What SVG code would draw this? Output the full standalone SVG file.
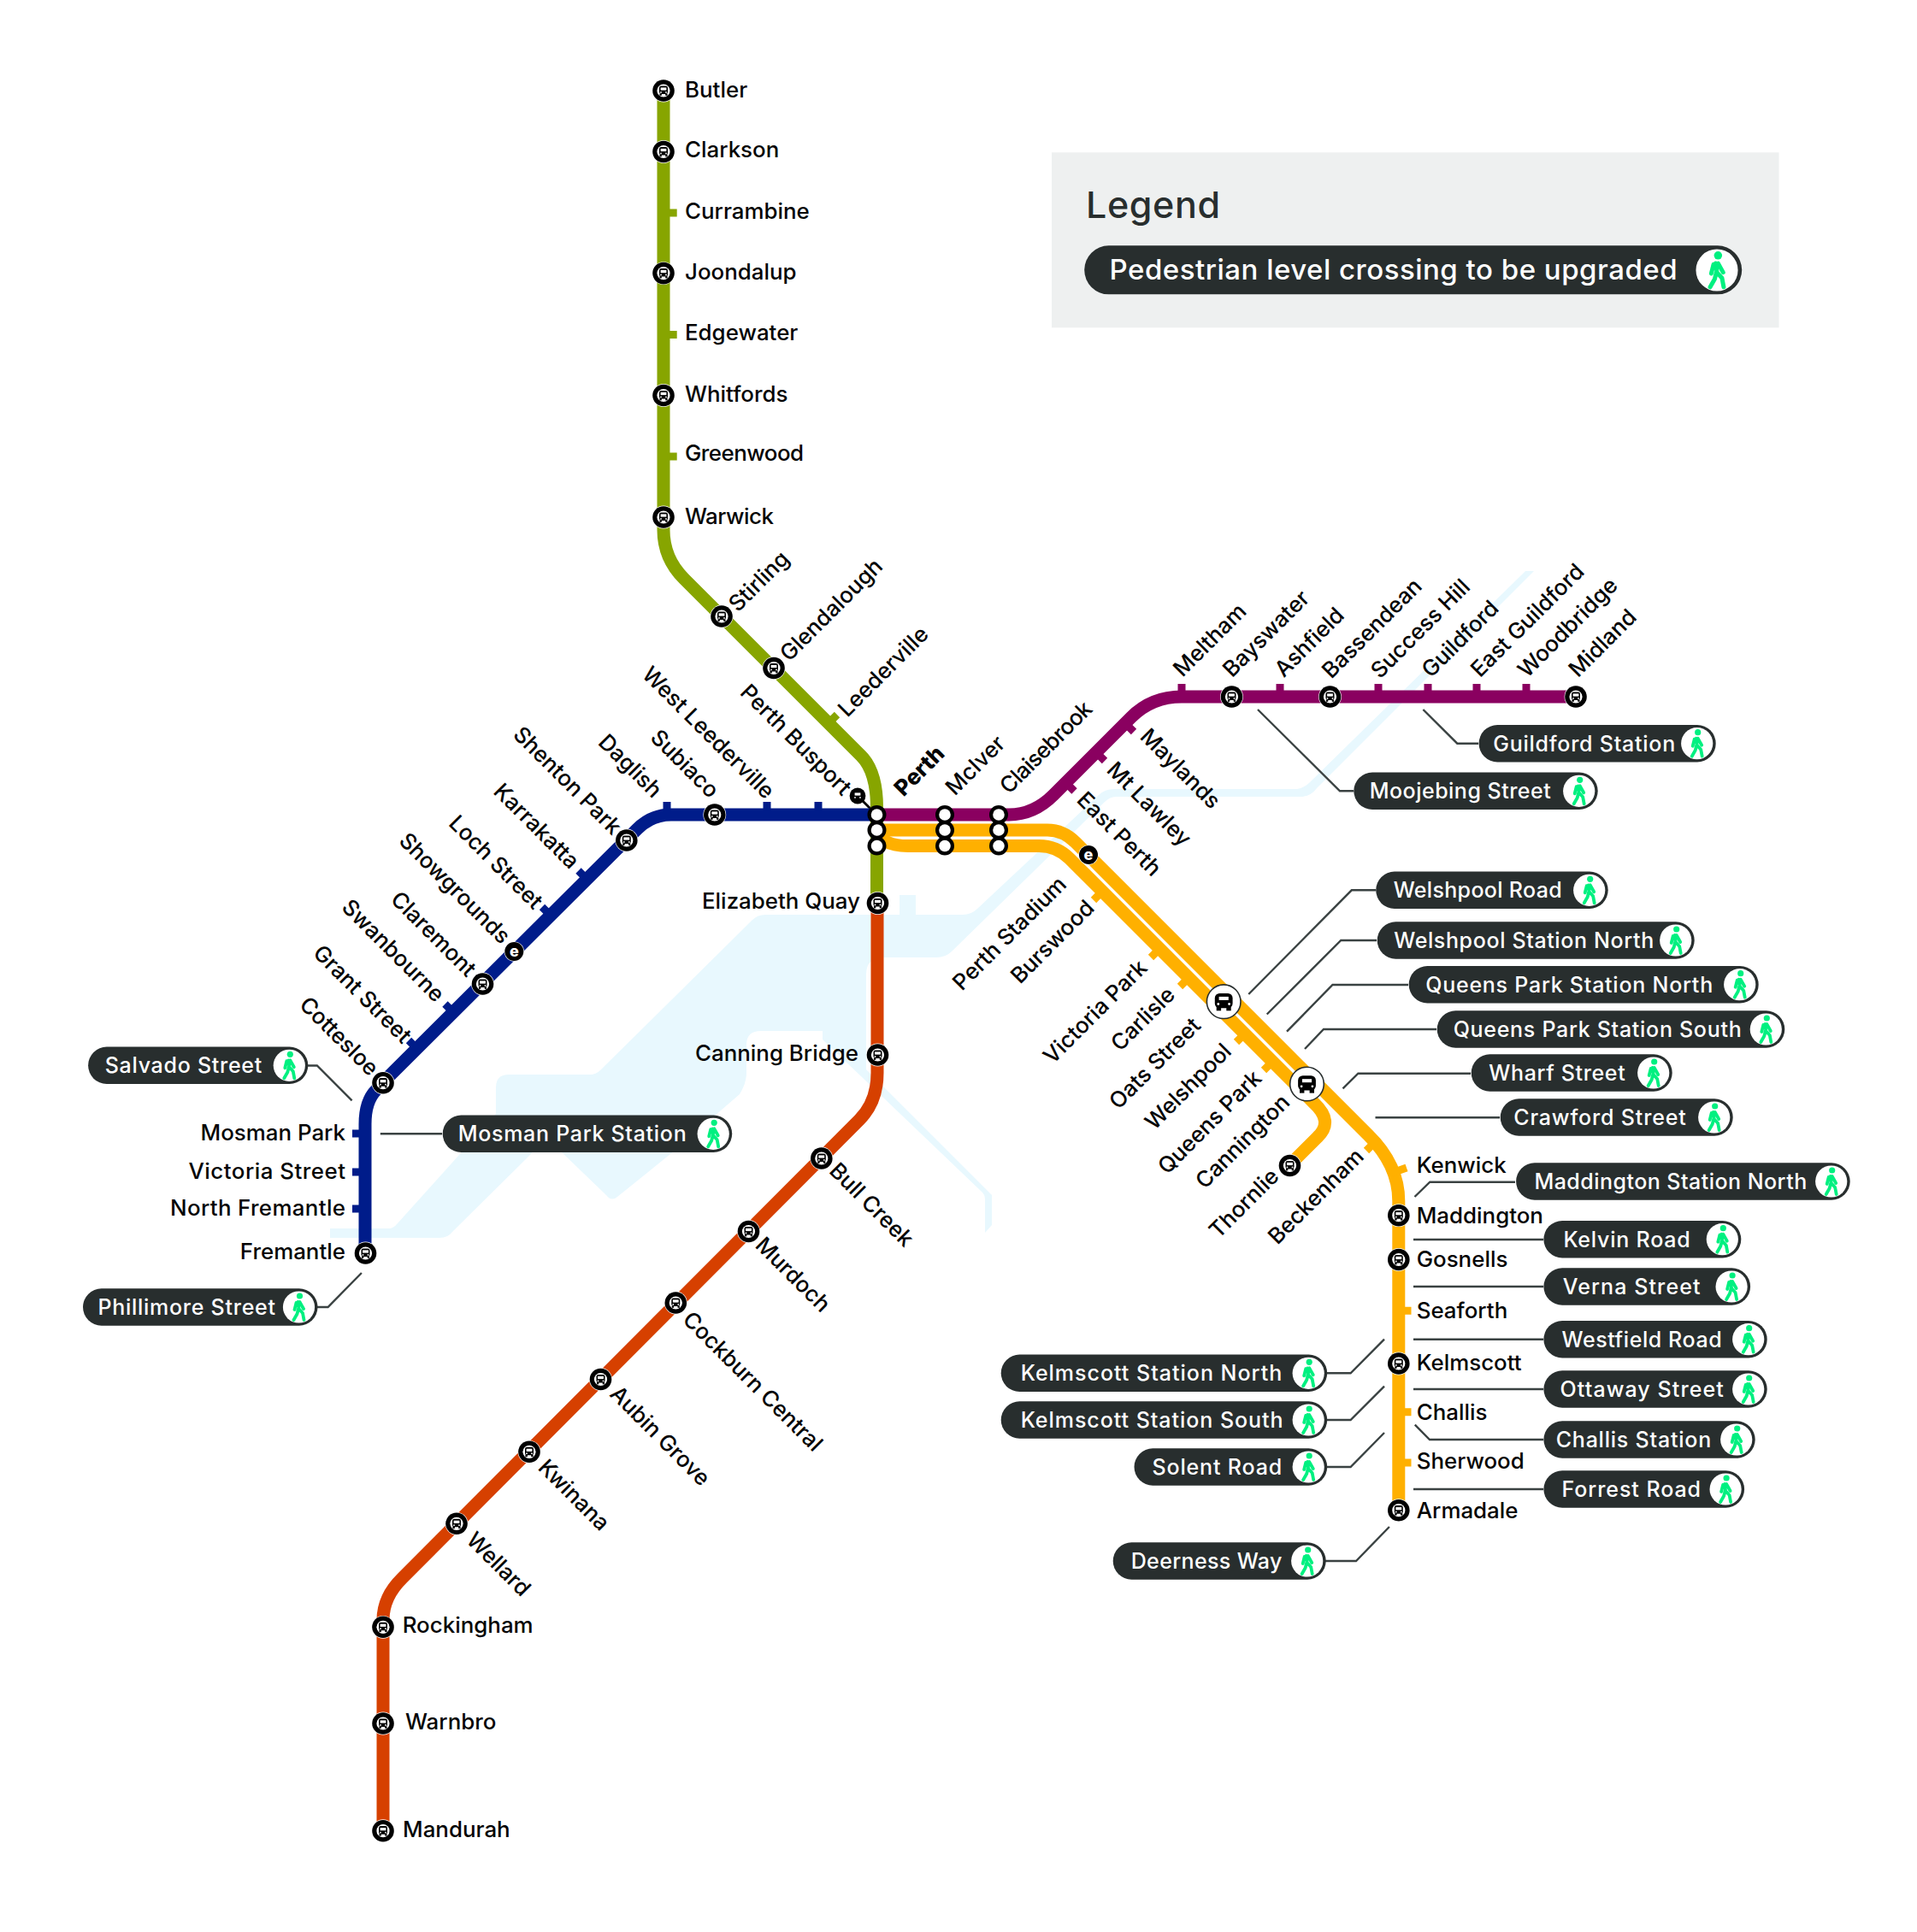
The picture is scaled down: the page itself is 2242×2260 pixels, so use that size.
<svg xmlns="http://www.w3.org/2000/svg" xmlns:xlink="http://www.w3.org/1999/xlink" width="2242" height="2260" viewBox="0 0 2242 2260">
<style>
text{font-family:Inter,"Noto Sans","Liberation Sans",sans-serif;font-weight:500}
.l{font-size:25.9px;fill:#050505}
.e{text-anchor:end}
.b{font-weight:800}
.p{font-size:25px;fill:#fff}
.ln{fill:none;stroke-width:15}
.g{stroke:#87a500}.m{stroke:#8a0060}.n{stroke:#001c8a}.r{stroke:#d64000}.y{stroke:#ffb000}
.tk{fill:none;stroke-width:9}
.c{fill:none;stroke:#3a4242;stroke-width:2.4}
.pill{fill:#282e2e}
</style>
<defs>
<symbol id="bus" viewBox="-8 -8 16 16" overflow="visible">
<rect x="-5" y="-5.6" width="10" height="9.6" rx="2.4" fill="#000"/><rect x="-3.4" y="-3.6" width="6.8" height="3.2" fill="#fff"/><circle cx="-3" cy="1.9" r=".9" fill="#fff"/><circle cx="3" cy="1.9" r=".9" fill="#fff"/><rect x="-4.6" y="3.6" width="2.4" height="2.2" fill="#000"/><rect x="2.2" y="3.6" width="2.4" height="2.2" fill="#000"/>
</symbol>
<g id="st"><circle r="13.4" fill="#fff"/><circle r="12.8" fill="#000"/><circle r="7.6" fill="#fff"/><use xlink:href="#bus" href="#bus" x="-8" y="-8" width="16" height="16"/></g>
<g id="big"><circle r="19.8" fill="#fff" stroke="#282e2e" stroke-width="1.6"/><rect x="-10.4" y="-9.8" width="20.8" height="17.4" rx="5.5" fill="#000"/><rect x="-8.5" y="6" width="5.4" height="4.6" fill="#000"/><rect x="3.1" y="6" width="5.4" height="4.6" fill="#000"/><rect x="-5.6" y="-5.8" width="11.2" height="4" fill="#fff"/><circle cx="-6.4" cy="2.8" r="1.4" fill="#fff"/><circle cx="6.4" cy="2.8" r="1.4" fill="#fff"/></g>
<g id="ee"><circle r="11.6" fill="#fff"/><circle r="11" fill="#000"/><text y="6" text-anchor="middle" style="font-size:18px;font-weight:800;fill:#fff">e</text></g>
<g id="ix"><rect x="-5.5" y="0" width="11" height="37" fill="#000"/><circle r="11" fill="#000"/><circle cy="18" r="11" fill="#000"/><circle cy="36.5" r="11" fill="#000"/><circle r="6.8" fill="#fff"/><circle cy="18" r="6.8" fill="#fff"/><circle cy="36.5" r="6.8" fill="#fff"/></g>
<g id="wk"><circle r="18.6" fill="#fff"/><circle cx="1" cy="-13" r="3.6" fill="#00f080"/><path d="M-1-6 L0 2 L4.5 7 L6 15 M-.5 2 L-2 8 L-6 15 M-3-5 L-5 3 M1-6 L5.5 2" fill="none" stroke="#00f080" stroke-width="3.8" stroke-linecap="round" stroke-linejoin="round"/></g>
</defs>
<rect width="2242" height="2260" fill="#fff"/>
<path id="water" fill="#e8f8fe" d="M386,1437 L455,1437 Q460,1437 465,1431 L580,1303 L580,1272 Q580,1257 595,1257 L690,1257 Q697,1257 702,1252 L880,1076 Q886,1070 895,1070 L1052,1070 L1052,1047 L1071,1047 L1071,1070 L1126,1070 Q1136,1070 1143,1063 L1285,930 Q1292,923 1303,923 L1517,923 Q1525,922 1532,915 L1784,668 L1794,668 L1540,922 Q1533,932 1520,932 L1305,932 Q1298,932 1292,938 L1113,1113 Q1106,1120 1095,1120 L1033,1120 Q1013,1120 1013,1140 L1013,1251 L1160,1398 L1160,1433 L1152,1442 L1152,1403 Q1152,1397 1147,1393 L962,1216 L962,1206 L890,1206 Q873,1206 873,1222 L873,1255 Q873,1267 865,1280 L784,1350 L722,1400 Q715,1406 709,1398 L656,1347 L638,1325 L621,1350 L529,1441 Q524,1448 514,1448 L386,1448 Z"/>
<g id="connectors">
<path class="c" d="M1471,830 L1567,925.3 L1583,925.3"/>
<path class="c" d="M1664.4,830 L1704.3,869.7 L1729,869.7"/>
<path class="c" d="M1460.3,1163 L1580.8,1041.3 L1609,1041.3"/>
<path class="c" d="M1481.7,1186.5 L1568.3,1100 L1610,1100"/>
<path class="c" d="M1505,1206.7 L1558.5,1152 L1647,1152"/>
<path class="c" d="M1526,1227 L1548,1204 L1680,1204"/>
<path class="c" d="M1570.5,1273.3 L1588.4,1255.7 L1720,1255.7"/>
<path class="c" d="M1608.5,1307.3 L1754,1307.3"/>
<path class="c" d="M1654.5,1400 L1672.3,1382.7 L1772,1382.7"/>
<path class="c" d="M1653,1450 L1805,1450"/>
<path class="c" d="M1653,1505 L1805,1505"/>
<path class="c" d="M1653,1566.7 L1805,1566.7"/>
<path class="c" d="M1653,1625 L1805,1625"/>
<path class="c" d="M1654.8,1666.7 L1672,1684 L1805,1684"/>
<path class="c" d="M1653,1742 L1805,1742"/>
<path class="c" d="M1619,1566.7 L1579.6,1606.3 L1551,1606.3"/>
<path class="c" d="M1619,1621.7 L1579.6,1661 L1551,1661"/>
<path class="c" d="M1619,1676 L1579.6,1716 L1551,1716"/>
<path class="c" d="M1624.9,1786 L1586,1826 L1550,1826"/>
<path class="c" d="M411.6,1287.3 L370.8,1246.5 L359,1246.5"/>
<path class="c" d="M444.8,1326.3 L517,1326.3"/>
<path class="c" d="M422.9,1489 L383.6,1529 L370,1529"/>
<path fill="none" stroke="#000" stroke-width="3" d="M1003,931 L1025,953"/>
</g>
<g id="lines">
<path class="ln r" d="M1026,1056 L1026,1255 Q1026,1289 1005,1310 L470.5,1846 Q448,1868 448,1895 L448,2141"/>
<path class="ln g" d="M776,106 L776,620 Q776,653 800,677 L1007,884 Q1025.5,902.5 1025.5,945 L1025.5,1056"/>
<path class="ln n" d="M1025,953 L785,953 Q762,953 745,970 L448,1266 L440,1275 Q427,1288 427,1315 L427,1466"/>
<path class="ln m" d="M1025,953 L1180,953 Q1209,953 1232,930 L1323,839 Q1347,815 1382,815 L1842,815"/>
<path class="ln y" d="M1025,971 L1225,971 Q1243.5,971 1258,985.5 L1600,1327.5 Q1635.8,1362.5 1635.8,1405 L1635.8,1766"/>
<path class="ln y" d="M1025,970 Q1030,989.5 1062,989.5 L1215,989.5 Q1236,989.5 1251,1004.5 L1537,1290.5 Q1560,1312 1541,1330 L1508,1363"/>
</g>
<g id="ticks">
<path class="tk g" d="M780,249H791.7M780,391.4H791.7M780,534H791.7M969,846L979,836"/>
<path class="tk n" d="M780,953V938M897,953V938M957,953V938M686.5,1028.5L676.5,1018.5M644,1071L634,1061M530.5,1184.5L520.5,1174.5M488,1227L478,1217M427,1326H412M427,1371H412M427,1414H412"/>
<path class="tk m" d="M1382,815V800M1497,815V800M1612,815V800M1670,815V800M1727,815V800M1785,815V800M1316,846L1326,856M1282,880L1292,890M1246.5,915.5L1256.5,925.5"/>
<path class="tk y" d="M1289,1042.7L1279,1053M1356,1110L1346,1120M1390,1144L1380,1154M1456,1209L1446,1219M1488,1242L1478,1252M1608,1336L1598,1346M1628,1372L1645,1366M1635.8,1533.3H1650.5M1635.8,1651.7H1650.5M1635.8,1711H1650.5"/>
</g>
<g id="stations">
<use href="#st" x="776" y="106"/><use href="#st" x="776" y="177.5"/><use href="#st" x="776" y="319.6"/><use href="#st" x="776" y="462.5"/><use href="#st" x="776" y="605"/>
<use href="#st" x="844" y="721"/><use href="#st" x="905" y="781.5"/>
<use href="#st" x="1026.5" y="1056.5"/><use href="#st" x="1026.5" y="1234"/><use href="#st" x="960.8" y="1355"/><use href="#st" x="875.5" y="1440.5"/><use href="#st" x="790.3" y="1524"/><use href="#st" x="702.5" y="1613.5"/><use href="#st" x="619" y="1698.3"/><use href="#st" x="534" y="1782.3"/><use href="#st" x="448" y="1903.3"/><use href="#st" x="448" y="2016"/><use href="#st" x="448" y="2141.7"/>
<use href="#st" x="835.8" y="953"/><use href="#st" x="732.8" y="983"/><use href="#st" x="564.5" y="1151"/><use href="#st" x="448" y="1266.7"/><use href="#st" x="427.5" y="1466"/>
<use href="#ee" x="601.3" y="1113"/><use href="#ee" x="1273" y="1000"/>
<use href="#st" x="1440.5" y="815"/><use href="#st" x="1555.5" y="815"/><use href="#st" x="1843" y="815"/>
<use href="#st" x="1635.8" y="1421.7"/><use href="#st" x="1635.8" y="1473.5"/><use href="#st" x="1635.8" y="1595"/><use href="#st" x="1635.8" y="1766.7"/><use href="#st" x="1508.5" y="1363.5"/>
<use href="#big" x="1431.2" y="1171.7"/><use href="#big" x="1528.5" y="1268"/>
<g id="busport"><circle cx="1003" cy="931" r="9.4" fill="#000"/><use href="#bus" x="995" y="923" width="16" height="16"/></g>
<use href="#ix" x="1025.5" y="953"/><use href="#ix" x="1105" y="953"/><use href="#ix" x="1168" y="953"/>
</g>
<g id="labels">
<text class="l" x="801" y="113.6">Butler</text><text class="l" x="801" y="183.6">Clarkson</text><text class="l" x="801" y="255.7">Currambine</text><text class="l" x="801" y="326.8">Joondalup</text><text class="l" x="801" y="397.5">Edgewater</text><text class="l" x="801" y="469.6">Whitfords</text><text class="l" x="801" y="539" textLength="139">Greenwood</text><text class="l" x="801" y="612.5" textLength="104">Warwick</text>
<text class="l" x="863" y="717" transform="rotate(-45 863 717)">Stirling</text>
<text class="l" x="923" y="775" transform="rotate(-45 923 775)">Glendalough</text>
<text class="l" x="991" y="840" transform="rotate(-45 991 840)">Leederville</text>
<text class="l b" x="1056.7" y="932.7" transform="rotate(-45 1056.7 932.7)">Perth</text>
<text class="l" x="1116.7" y="931.7" transform="rotate(-45 1116.7 931.7)">McIver</text>
<text class="l" x="1180" y="930" transform="rotate(-45 1180 930)" textLength="140">Claisebrook</text>
<text class="l" x="1383" y="793" transform="rotate(-45 1383 793)">Meltham</text>
<text class="l" x="1441" y="793.5" transform="rotate(-45 1441 793.5)">Bayswater</text>
<text class="l" x="1501.6" y="793.5" transform="rotate(-45 1501.6 793.5)">Ashfield</text>
<text class="l" x="1557" y="795" transform="rotate(-45 1557 795)">Bassendean</text>
<text class="l" x="1614" y="795" transform="rotate(-45 1614 795)">Success Hill</text>
<text class="l" x="1673.5" y="794" transform="rotate(-45 1673.5 794)">Guildford</text>
<text class="l" x="1731" y="793.5" transform="rotate(-45 1731 793.5)">East Guildford</text>
<text class="l" x="1786" y="794" transform="rotate(-45 1786 794)">Woodbridge</text>
<text class="l" x="1845.5" y="793.5" transform="rotate(-45 1845.5 793.5)">Midland</text>
<text class="l" x="1332" y="863" transform="rotate(45 1332 863)">Maylands</text>
<text class="l" x="1293" y="902" transform="rotate(45 1293 902)">Mt Lawley</text>
<text class="l" x="1258" y="937" transform="rotate(45 1258 937)">East Perth</text>
<text class="l" x="968.6" y="1371" transform="rotate(45 968.6 1371)">Bull Creek</text>
<text class="l" x="882" y="1458" transform="rotate(45 882 1458)">Murdoch</text>
<text class="l" x="797" y="1545" transform="rotate(45 797 1545)">Cockburn Central</text>
<text class="l" x="712" y="1632" transform="rotate(45 712 1632)">Aubin Grove</text>
<text class="l" x="628" y="1718" transform="rotate(45 628 1718)">Kwinana</text>
<text class="l" x="544" y="1803" transform="rotate(45 544 1803)">Wellard</text>
<text class="l" x="1125" y="1160" transform="rotate(-45 1125 1160)">Perth Stadium</text>
<text class="l" x="1193" y="1152" transform="rotate(-45 1193 1152)">Burswood</text>
<text class="l" x="1231" y="1246" transform="rotate(-45 1231 1246)">Victoria Park</text>
<text class="l" x="1310" y="1231" transform="rotate(-45 1310 1231)">Carlisle</text>
<text class="l" x="1308" y="1299" transform="rotate(-45 1308 1299)">Oats Street</text>
<text class="l" x="1350" y="1323" transform="rotate(-45 1350 1323)">Welshpool</text>
<text class="l" x="1365" y="1375" transform="rotate(-45 1365 1375)">Queens Park</text>
<text class="l" x="1409" y="1392" transform="rotate(-45 1409 1392)">Cannington</text>
<text class="l" x="1425" y="1450" transform="rotate(-45 1425 1450)">Thornlie</text>
<text class="l" x="1494" y="1457" transform="rotate(-45 1494 1457)">Beckenham</text>
<text class="l e" x="895" y="936" transform="rotate(45 895 936)">West Leederville</text>
<text class="l e" x="985" y="932" transform="rotate(45 985 932)">Perth Busport</text>
<text class="l e" x="830" y="935" transform="rotate(45 830 935)">Subiaco</text>
<text class="l e" x="763.4" y="934.7" transform="rotate(45 763.4 934.7)">Daglish</text>
<text class="l e" x="716" y="978" transform="rotate(45 716 978)">Shenton Park</text>
<text class="l e" x="666.6" y="1018" transform="rotate(45 666.6 1018)">Karrakatta</text>
<text class="l e" x="624" y="1065" transform="rotate(45 624 1065)">Loch Street</text>
<text class="l e" x="586" y="1105.7" transform="rotate(45 586 1105.7)">Showgrounds</text>
<text class="l e" x="546" y="1144" transform="rotate(45 546 1144)">Claremont</text>
<text class="l e" x="509" y="1173.7" transform="rotate(45 509 1173.7)">Swanbourne</text>
<text class="l e" x="470.5" y="1222" transform="rotate(45 470.5 1222)">Grant Street</text>
<text class="l e" x="432" y="1260" transform="rotate(45 432 1260)">Cottesloe</text>
<text class="l e" x="1006" y="1063">Elizabeth Quay</text><text class="l e" x="1004" y="1241">Canning Bridge</text>
<text class="l e" x="404" y="1334">Mosman Park</text><text class="l e" x="404" y="1379" textLength="183.5">Victoria Street</text><text class="l e" x="404" y="1421.7" textLength="205">North Fremantle</text><text class="l e" x="404" y="1473">Fremantle</text>
<text class="l" x="470.7" y="1910">Rockingham</text><text class="l" x="474" y="2022.7">Warnbro</text><text class="l" x="471" y="2149">Mandurah</text>
<text class="l" x="1656.7" y="1372">Kenwick</text><text class="l" x="1656.7" y="1431">Maddington</text><text class="l" x="1656.7" y="1482">Gosnells</text><text class="l" x="1656.7" y="1541.7">Seaforth</text><text class="l" x="1656.7" y="1602.7">Kelmscott</text><text class="l" x="1656.7" y="1660.7">Challis</text><text class="l" x="1656.7" y="1718.3">Sherwood</text><text class="l" x="1656.7" y="1775.7">Armadale</text>
</g>
<g id="legend">
<rect x="1230" y="178.3" width="850.5" height="205" fill="#eef0f0"/>
<text x="1270" y="255" textLength="157" style="font-size:43px;fill:#282e2e">Legend</text>
<rect class="pill" x="1268.2" y="287.3" width="769" height="57" rx="28.5"/>
<text class="p" x="1297.6" y="327.3" textLength="664" style="font-size:33px">Pedestrian level crossing to be upgraded</text>
<use href="#wk" transform="translate(2008 316) scale(1.32)"/>
</g>
<g id="crossings" transform="translate(.7 0)">
<g id="x1"><rect class="pill" x="1608.5" y="1019.6" width="271.5" height="43.4" rx="21.7"/><text class="p" x="1629" y="1050.3" textLength="197">Welshpool Road</text><use href="#wk" x="1858" y="1041.3"/></g>
<g id="x2"><rect class="pill" x="1610" y="1078.3" width="371" height="43.4" rx="21.7"/><text class="p" x="1629.5" y="1109" textLength="304">Welshpool Station North</text><use href="#wk" x="1959" y="1100"/></g>
<g id="x3"><rect class="pill" x="1647" y="1130" width="409" height="43.4" rx="21.7"/><text class="p" x="1666.5" y="1160.7" textLength="336">Queens Park Station North</text><use href="#wk" x="2034" y="1151.7"/></g>
<g id="x4"><rect class="pill" x="1680" y="1182.3" width="406.6" height="43.4" rx="21.7"/><text class="p" x="1699" y="1213" textLength="337">Queens Park Station South</text><use href="#wk" x="2064.6" y="1204"/></g>
<g id="x5"><rect class="pill" x="1720" y="1233.3" width="235" height="43.4" rx="21.7"/><text class="p" x="1740.6" y="1264" textLength="159.4">Wharf Street</text><use href="#wk" x="1933" y="1255"/></g>
<g id="x6"><rect class="pill" x="1754" y="1285.3" width="272" height="43.4" rx="21.7"/><text class="p" x="1769.6" y="1316" textLength="201.4">Crawford Street</text><use href="#wk" x="2004" y="1307"/></g>
<g id="x7"><rect class="pill" x="1772.4" y="1360.3" width="390.6" height="43.4" rx="21.7"/><text class="p" x="1793.7" y="1391" textLength="318.8">Maddington Station North</text><use href="#wk" x="2141" y="1382"/></g>
<g id="x8"><rect class="pill" x="1804.7" y="1428" width="230.9" height="43.4" rx="21.7"/><text class="p" x="1827.7" y="1458.7" textLength="148.3">Kelvin Road</text><use href="#wk" x="2013.6" y="1449.7"/></g>
<g id="x9"><rect class="pill" x="1804.7" y="1483.3" width="241.7" height="43.4" rx="21.7"/><text class="p" x="1827" y="1514" textLength="160.8">Verna Street</text><use href="#wk" x="2024.4" y="1505"/></g>
<g id="x10"><rect class="pill" x="1804.7" y="1545" width="261.3" height="43.4" rx="21.7"/><text class="p" x="1825.8" y="1575.7" textLength="187.2">Westfield Road</text><use href="#wk" x="2044" y="1566.7"/></g>
<g id="x11"><rect class="pill" x="1804.7" y="1603.3" width="261.3" height="43.4" rx="21.7"/><text class="p" x="1823.9" y="1634" textLength="191.1">Ottaway Street</text><use href="#wk" x="2044" y="1625"/></g>
<g id="x12"><rect class="pill" x="1804.7" y="1662.3" width="247.3" height="43.4" rx="21.7"/><text class="p" x="1819" y="1693" textLength="181.5">Challis Station</text><use href="#wk" x="2030" y="1684"/></g>
<g id="x13"><rect class="pill" x="1804.7" y="1720.3" width="234.7" height="43.4" rx="21.7"/><text class="p" x="1825.8" y="1751" textLength="162.6">Forrest Road</text><use href="#wk" x="2017.4" y="1742"/></g>
<g id="x14"><rect class="pill" x="1170" y="1584.6" width="381.5" height="43.4" rx="21.7"/><text class="p" x="1193" y="1615.3" textLength="305.6">Kelmscott Station North</text><use href="#wk" x="1529.5" y="1606.3"/></g>
<g id="x15"><rect class="pill" x="1170" y="1639.3" width="381.5" height="43.4" rx="21.7"/><text class="p" x="1193" y="1670" textLength="306.9">Kelmscott Station South</text><use href="#wk" x="1529.5" y="1661"/></g>
<g id="x16"><rect class="pill" x="1325.8" y="1694.3" width="225.7" height="43.4" rx="21.7"/><text class="p" x="1346.8" y="1725" textLength="151.8">Solent Road</text><use href="#wk" x="1529.5" y="1716"/></g>
<g id="x17"><rect class="pill" x="1301" y="1804.3" width="249" height="43.4" rx="21.7"/><text class="p" x="1322" y="1835" textLength="176.6">Deerness Way</text><use href="#wk" x="1528" y="1826"/></g>
<g id="x18"><rect class="pill" x="102.4" y="1224.6" width="257.2" height="43.4" rx="21.7"/><text class="p" x="122" y="1255.3" textLength="183.5">Salvado Street</text><use href="#wk" x="337.6" y="1246.3"/></g>
<g id="x19"><rect class="pill" x="517" y="1304.6" width="338.5" height="43.4" rx="21.7"/><text class="p" x="535" y="1335.3" textLength="267">Mosman Park Station</text><use href="#wk" x="833.5" y="1326.3"/></g>
<g id="x20"><rect class="pill" x="96.3" y="1507.3" width="274.5" height="43.4" rx="21.7"/><text class="p" x="113.7" y="1538" textLength="207.6">Phillimore Street</text><use href="#wk" x="348.8" y="1529"/></g>
<g id="x21"><rect class="pill" x="1728.9" y="848" width="277.1" height="43.4" rx="21.7"/><text class="p" x="1745.5" y="878.7" textLength="213">Guildford Station</text><use href="#wk" x="1984" y="869.7"/></g>
<g id="x22"><rect class="pill" x="1582.6" y="903.6" width="285.4" height="43.4" rx="21.7"/><text class="p" x="1601" y="934.3" textLength="212">Moojebing Street</text><use href="#wk" x="1846" y="925.3"/></g>
</g>
</svg>
